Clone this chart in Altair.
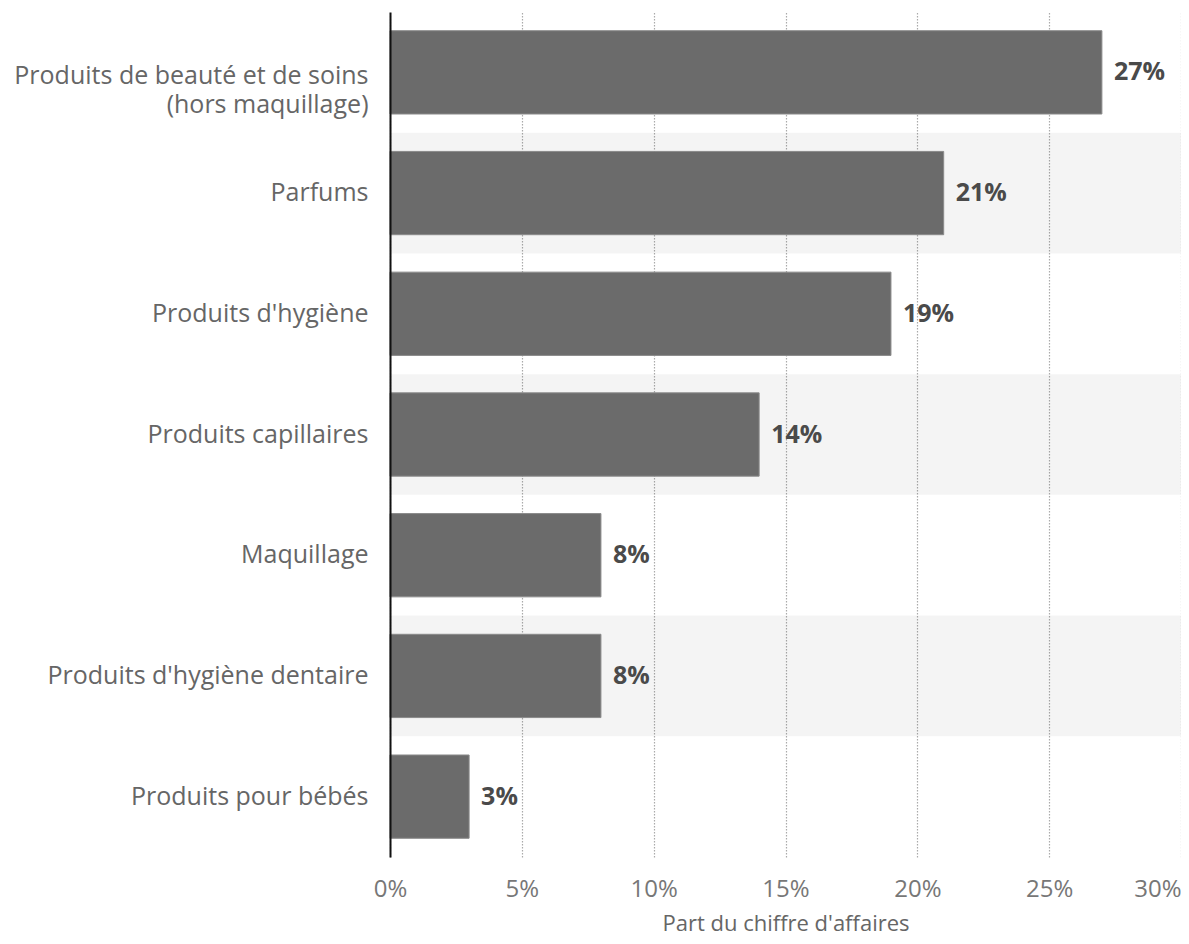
import altair as alt
import pandas as pd

categories = [
    "Produits de beauté et de soins|(hors maquillage)",
    "Parfums",
    "Produits d'hygiène",
    "Produits capillaires",
    "Maquillage",
    "Produits d'hygiène dentaire",
    "Produits pour bébés",
]
shares = [27, 21, 19, 14, 8, 8, 3]
x_ticks = [0, 5, 10, 15, 20, 25, 30]
x_title = "Part du chiffre d'affaires"

df = pd.DataFrame({"cat": categories, "share": shares})

FONT = "Open Sans"
W, H = 791, 845

y_axis = alt.Axis(
    title=None, ticks=False, domain=True, domainColor="#111111", domainWidth=2,
    grid=False, labelFont=FONT, labelFontSize=25, labelColor="#666666",
    labelPadding=22, labelLimit=600, labelExpr="split(datum.label, '|')",
    labelLineHeight=29,
    labelOffset={"condition": {"test": "indexof(datum.value, '|') >= 0", "value": 4}, "value": 0},
)
y = alt.Y("cat:N", sort=categories,
          scale=alt.Scale(paddingInner=0, paddingOuter=0), axis=y_axis)

x_axis = alt.Axis(
    values=x_ticks, labelExpr="datum.value + '%'", domain=False, ticks=False,
    grid=True, gridColor="#aaaaaa", gridDash=[1.5, 1.5], gridWidth=1.2,
    labelFont=FONT, labelFontSize=24, labelColor="#777777", labelPadding=20,
    labelAlign={"condition": {"test": "datum.value == 30", "value": "right"}, "value": "center"},
    labelFlush=False,
    title=x_title, titleFont=FONT, titleFontSize=22, titleColor="#666666",
    titleFontWeight="normal", titleBaseline="alphabetic", titleY=73,
)
x = alt.X("share:Q", scale=alt.Scale(domain=[0, 30], nice=False), axis=x_axis)

base = alt.Chart(df)

bands = (
    base.transform_window(row="row_number()")
    .transform_filter("datum.row % 2 == 0")
    .mark_rect(color="#000000", opacity=0.045)
    .encode(y=y, x=alt.value(0), x2=alt.value(W))
)

bars = base.mark_bar(
    color="#6b6b6b", height=alt.RelativeBandSize(0.69),
    stroke="#8a8a8a", strokeWidth=1,
).encode(y=y, x=x)

labels = (
    base.transform_calculate(lbl="datum.share + '%'")
    .mark_text(align="left", baseline="middle", dx=12, font=FONT,
               fontSize=25, fontWeight="bold", color="#4a4a4a")
    .encode(y=y, x=x, text="lbl:N")
)

chart = (
    alt.layer(bands, bars, labels)
    .properties(
        width=W, height=H,
        padding={"left": 382, "top": 4, "right": 0, "bottom": 79},
        autosize=alt.AutoSizeParams(type="none"),
    )
    .configure_view(stroke=None)
)

chart.save("out.html", embed_options={"renderer": "svg", "actions": False})
